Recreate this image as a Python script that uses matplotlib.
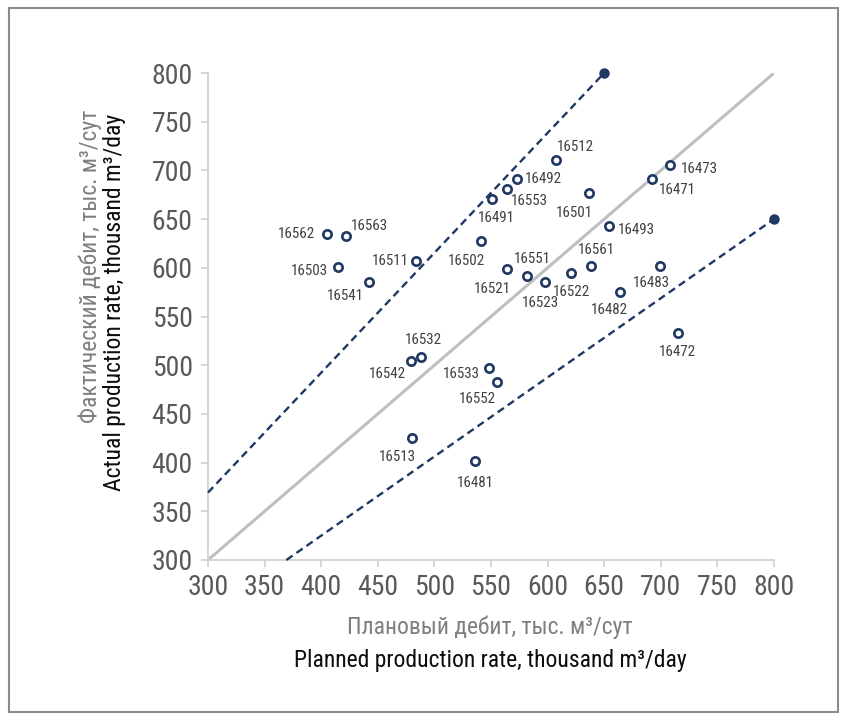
import matplotlib
matplotlib.use("Agg")
import matplotlib.pyplot as plt
from matplotlib import font_manager
from matplotlib.patches import Rectangle

# Pick a narrow sans face if one is available
_names = {f.name for f in font_manager.fontManager.ttflist}
for cand in ["Roboto Condensed", "Liberation Sans Narrow", "Roboto", "DejaVu Sans"]:
    if cand in _names:
        FONT = cand
        break
plt.rcParams["font.family"] = [FONT, "DejaVu Sans"]

# Well data: planned vs actual production rate, thousand m3/day
wells = ["16562", "16563", "16503", "16541", "16511", "16491", "16553", "16492",
         "16502", "16521", "16551", "16523", "16512", "16501", "16473", "16471",
         "16493", "16522", "16561", "16483", "16482", "16532", "16542", "16533",
         "16552", "16513", "16481", "16472"]
planned = [405, 422, 415, 442, 484, 551, 564, 573,
           541, 564, 582, 598, 607, 637, 708, 692,
           654, 621, 638, 699, 664, 488, 479, 548,
           555, 480, 536, 715]
actual = [635, 633, 601, 585, 607, 671, 681, 691,
          628, 599, 592, 585, 711, 677, 706, 691,
          643, 595, 602, 602, 575, 508, 504, 497,
          483, 425, 402, 533]

# Label offsets (pixels, x right / y up) for each well id
label_dx = [-30, 23, -29, -23, -26, 4, 23, 26,
            -14, -14, 5, -5, 20, -15, 30, 26,
            28, 0, 6, -8, -11, 3, -23, -27,
            -19, -14, 0, 0]
label_dy = [0, 10, -4, -14, 0, -19, -12, 0,
            -20, -20, 17, -21, 13, -20, -4, -11,
            -4, -19, 16, -17, -18, 17, -13, -6,
            -17, -19, -22, -19]

# Reference lines: y = x and the deviation bounds through the origin
diag = [300, 800]
upper_x = [300, 650]
upper_y = [300 * 800 / 650, 800]
lower_x = [300 * 800 / 650, 800]
lower_y = [300, 650]

ticks = [300, 350, 400, 450, 500, 550, 600, 650, 700, 750, 800]

NAVY = "#1F3864"
GRID = "#D0D0D0"
TICKC = "#595959"

fig = plt.figure(figsize=(8.46, 7.2), dpi=100)
fig.patches.append(Rectangle((9 / 846, 8 / 720), 829 / 846, 704 / 720,
                             transform=fig.transFigure, fill=False,
                             edgecolor="#8C8C8C", linewidth=1.5))

ax = fig.add_axes([208 / 846, 1 - 560 / 720, 566 / 846, 487 / 720])
ax.set_xlim(300, 800)
ax.set_ylim(300, 800)

ax.plot(diag, diag, color="#BFBFBF", linewidth=2.2, solid_capstyle="butt", zorder=2)
ax.plot(upper_x, upper_y, color=NAVY, linewidth=1.7, dashes=(3.2, 2.0), zorder=3,
        clip_on=False)
ax.plot(lower_x, lower_y, color=NAVY, linewidth=1.7, dashes=(3.2, 2.0), zorder=3,
        clip_on=False)
ax.plot([upper_x[1], lower_x[1]], [upper_y[1], lower_y[1]], linestyle="none",
        marker="o", markersize=6.5, color=NAVY, zorder=4, clip_on=False)

ax.plot(planned, actual, linestyle="none", marker="o", markersize=6,
        markerfacecolor="white", markeredgecolor=NAVY, markeredgewidth=1.9,
        zorder=5)

for w, x, y, dx, dy in zip(wells, planned, actual, label_dx, label_dy):
    ax.annotate(w, (x, y), xytext=(dx * 0.72, dy * 0.72), textcoords="offset points",
                ha="center", va="center", fontsize=10.8, color="#404040", zorder=6)

for s in ["top", "right"]:
    ax.spines[s].set_visible(False)
for s in ["left", "bottom"]:
    ax.spines[s].set_color(GRID)
    ax.spines[s].set_linewidth(1.2)
ax.set_xticks(ticks)
ax.set_yticks(ticks)
ax.tick_params(axis="both", colors=GRID, labelcolor=TICKC, labelsize=20,
               length=5, width=1.2, direction="out")
ax.tick_params(axis="x", pad=5)
ax.tick_params(axis="y", pad=6)

# Axis titles, Russian over English
fig.text(490 / 846, 1 - 627 / 720, "Плановый дебит, тыс. м³/сут", ha="center",
         va="center", fontsize=17, color="#7F7F7F")
fig.text(490 / 846, 1 - 660 / 720, "Planned production rate, thousand m³/day",
         ha="center", va="center", fontsize=17, color="#0D0D0D")
fig.text(90 / 846, 1 - 266 / 720, "Фактический дебит, тыс. м³/сут", ha="center",
         va="center", rotation=90, fontsize=17, color="#7F7F7F")
fig.text(115 / 846, 1 - 302 / 720, "Actual production rate, thousand m³/day",
         ha="center", va="center", rotation=90, fontsize=17, color="#0D0D0D")

fig.savefig("out.png", dpi=100)
